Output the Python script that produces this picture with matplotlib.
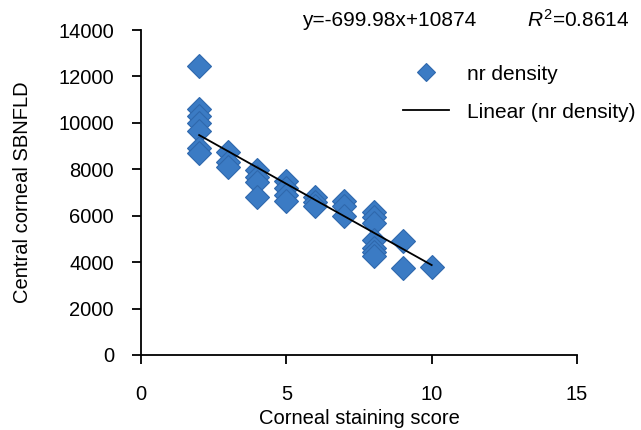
import matplotlib
matplotlib.use("Agg")
import matplotlib.pyplot as plt
import numpy as np

plt.rcParams['font.family'] = ['Liberation Sans', 'DejaVu Sans']
plt.rcParams['mathtext.fontset'] = 'custom'
plt.rcParams['mathtext.rm'] = 'Liberation Sans'
plt.rcParams['mathtext.it'] = 'Liberation Sans:italic'

# Data
staining_score = [2, 2, 2, 2, 2, 2, 2,
                  3, 3, 3,
                  4, 4, 4, 4,
                  5, 5, 5, 5,
                  6, 6, 6,
                  7, 7, 7,
                  8, 8, 8, 8, 8, 8, 8,
                  9, 9,
                  10]
nr_density = [12450, 10600, 10300, 10000, 9650, 8900, 8700,
              8750, 8300, 8100,
              7950, 7650, 7450, 6800,
              7500, 7200, 6900, 6650,
              6800, 6600, 6400,
              6650, 6400, 6000,
              6150, 5950, 5700, 4950, 4600, 4450, 4250,
              4900, 3750,
              3800]
slope = -699.98
intercept = 10874
r_squared = 0.8614

x_ticks = [0, 5, 10, 15]
y_ticks = [0, 2000, 4000, 6000, 8000, 10000, 12000, 14000]

fig = plt.figure(figsize=(6.41, 4.30), dpi=100)
ax = fig.add_axes([141/641, 75/430, (577-141)/641, (355-30)/430])

ax.plot(staining_score, nr_density, linestyle='none', marker='D', markersize=12,
        markerfacecolor='#3b7bc4', markeredgecolor='#2f68ad', markeredgewidth=0.8,
        label='nr density', zorder=3)

xs = np.array([min(staining_score), max(staining_score)])
ax.plot(xs, slope * xs + intercept, color='black', linewidth=1.3,
        label='Linear (nr density)', zorder=4)

ax.set_xlim(0, 15)
ax.set_ylim(0, 14000)
ax.set_xticks(x_ticks)
ax.set_yticks(y_ticks)
ax.tick_params(direction='out', length=6.5, width=1.3, labelsize=14.5)
ax.tick_params(axis='x', pad=15)
ax.tick_params(axis='y', pad=13)
for s in ['top', 'right']:
    ax.spines[s].set_visible(False)
for s in ['left', 'bottom']:
    ax.spines[s].set_linewidth(1.3)

ax.set_xlabel('Corneal staining score', fontsize=14.5, labelpad=4)
ax.set_ylabel('Central corneal SBNFLD', fontsize=14.5, labelpad=19)

fig.text(302/641, 1 - 20/430, 'y=-699.98x+10874', fontsize=15, va='center', ha='left')
fig.text(527/641, 1 - 20/430, r'$\mathit{R}^{2}$=0.8614', fontsize=15, va='center', ha='left')

leg = ax.legend(loc='upper left', bbox_to_anchor=(384/641, 1 - 46/430),
                bbox_transform=fig.transFigure, frameon=False, fontsize=15,
                handlelength=2.2, handletextpad=0.9, labelspacing=0.9,
                markerscale=0.8)

fig.savefig('out.png', dpi=100)
